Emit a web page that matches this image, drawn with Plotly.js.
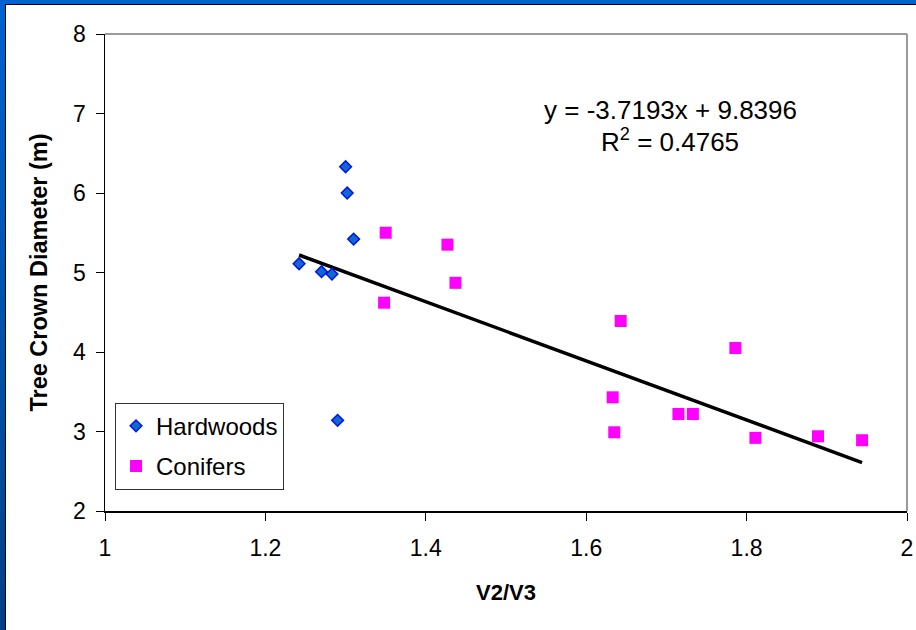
<!DOCTYPE html>
<html>
<head>
<meta charset="utf-8">
<script src="https://cdn.plot.ly/plotly-3.0.1.min.js"></script>
<style>
  html, body { margin: 0; padding: 0; width: 916px; height: 630px; overflow: hidden; }
  body { background: linear-gradient(180deg, #0062d2 0%, #0050a8 60%, #003f88 100%); }
  #frame { position: absolute; left: 5px; top: 4px; width: 911px; height: 626px;
           border-left: 1px solid #000; border-top: 1px solid #000; background: #fff; }
  #chart { width: 911px; height: 626px; }
</style>
</head>
<body>
<div id="frame"><div id="chart"></div></div>
<script>
// Hardwood stands: V2/V3 ratio vs. crown diameter (m)
const hardwoodX = [1.242, 1.270, 1.283, 1.300, 1.302, 1.310, 1.290];
const hardwoodY = [5.11, 5.01, 4.98, 6.33, 6.00, 5.42, 3.14];

// Conifer stands
const coniferX = [1.350, 1.348, 1.427, 1.437, 1.643, 1.633, 1.635, 1.715, 1.733, 1.786, 1.811, 1.889, 1.944];
const coniferY = [5.50, 4.62, 5.35, 4.87, 4.39, 3.43, 2.99, 3.22, 3.22, 4.05, 2.92, 2.94, 2.89];

// Linear trend fitted to all stands
const trendSlope = -3.7193;
const trendIntercept = 9.8396;
const trendR2 = 0.4765;

const xTicks = [1, 1.2, 1.4, 1.6, 1.8, 2];
const yTicks = [2, 3, 4, 5, 6, 7, 8];

const allX = hardwoodX.concat(coniferX);
const trendX = [Math.min(...allX), Math.max(...allX)];
const trendY = trendX.map(v => trendSlope * v + trendIntercept);

const FONT = 'Liberation Sans, Arial, Helvetica, sans-serif';

const traces = [
  {
    x: trendX, y: trendY, mode: 'lines', type: 'scatter',
    line: { color: '#000', width: 3.5 }, showlegend: false, hoverinfo: 'skip'
  },
  {
    name: 'Hardwoods', legendgroup: 'hw', x: hardwoodX, y: hardwoodY, mode: 'markers', type: 'scatter',
    marker: { symbol: 'diamond', size: 9, color: '#1466d2', line: { color: '#0018e0', width: 1.5 } }
  },
  {
    name: 'Conifers', legendgroup: 'cf', x: coniferX, y: coniferY, mode: 'markers', type: 'scatter',
    marker: { symbol: 'square', size: 12, color: '#ff00ff', line: { width: 0 } }
  }
];

const layout = {
  width: 911, height: 626,
  margin: { l: 99, r: 10, t: 29, b: 120 },
  paper_bgcolor: '#fff', plot_bgcolor: '#fff',
  font: { family: FONT, color: '#000' },
  xaxis: {
    range: [1, 2], tickvals: xTicks, ticktext: xTicks.map(String),
    showgrid: false, zeroline: false,
    showline: true, linecolor: '#000', linewidth: 1.5,
    ticks: 'outside', ticklen: 8, tickcolor: '#000', tickwidth: 1,
    ticklabelstandoff: 8,
    tickfont: { family: FONT, size: 23, color: '#000' },
    title: { text: 'V2/V3', font: { family: FONT, size: 22, color: '#000', weight: 'bold' }, standoff: 24 }
  },
  yaxis: {
    range: [2, 8], tickvals: yTicks, ticktext: yTicks.map(String),
    showgrid: false, zeroline: false,
    showline: true, linecolor: '#000', linewidth: 1.5,
    ticks: 'outside', ticklen: 8, tickcolor: '#000', tickwidth: 1,
    ticklabelstandoff: 5,
    tickfont: { family: FONT, size: 23, color: '#000' },
    title: { text: 'Tree Crown Diameter (m)', font: { family: FONT, size: 23.5, color: '#000', weight: 'bold' }, standoff: 19 }
  },
  shapes: [
    { type: 'line', xref: 'paper', yref: 'paper', x0: 0, x1: 1, y0: 1, y1: 1, line: { color: '#9a9a9a', width: 2 } },
    { type: 'line', xref: 'paper', yref: 'paper', x0: 1, x1: 1, y0: 0, y1: 1, line: { color: '#9a9a9a', width: 2 } }
  ],
  annotations: [
    {
      xref: 'x', yref: 'y', x: 1.7045, y: 7.04, xanchor: 'center', yanchor: 'middle',
      showarrow: false,
      text: 'y = ' + trendSlope + 'x + ' + trendIntercept,
      font: { family: FONT, size: 26, color: '#000' }
    },
    {
      xref: 'x', yref: 'y', x: 1.7045, y: 6.66, xanchor: 'center', yanchor: 'middle',
      showarrow: false,
      text: 'R<sup>2</sup> = ' + trendR2,
      font: { family: FONT, size: 26, color: '#000' }
    }
  ],
  legend: {
    x: 0.0125, y: 0.227, xanchor: 'left', yanchor: 'top',
    bgcolor: '#fff', bordercolor: '#333', borderwidth: 1,
    font: { family: FONT, size: 24, color: '#000' },
    traceorder: 'grouped', tracegroupgap: 6,
    itemwidth: 30
  },
  showlegend: true
};

Plotly.newPlot('chart', traces, layout, { displayModeBar: false, staticPlot: true });
</script>
</body>
</html>
